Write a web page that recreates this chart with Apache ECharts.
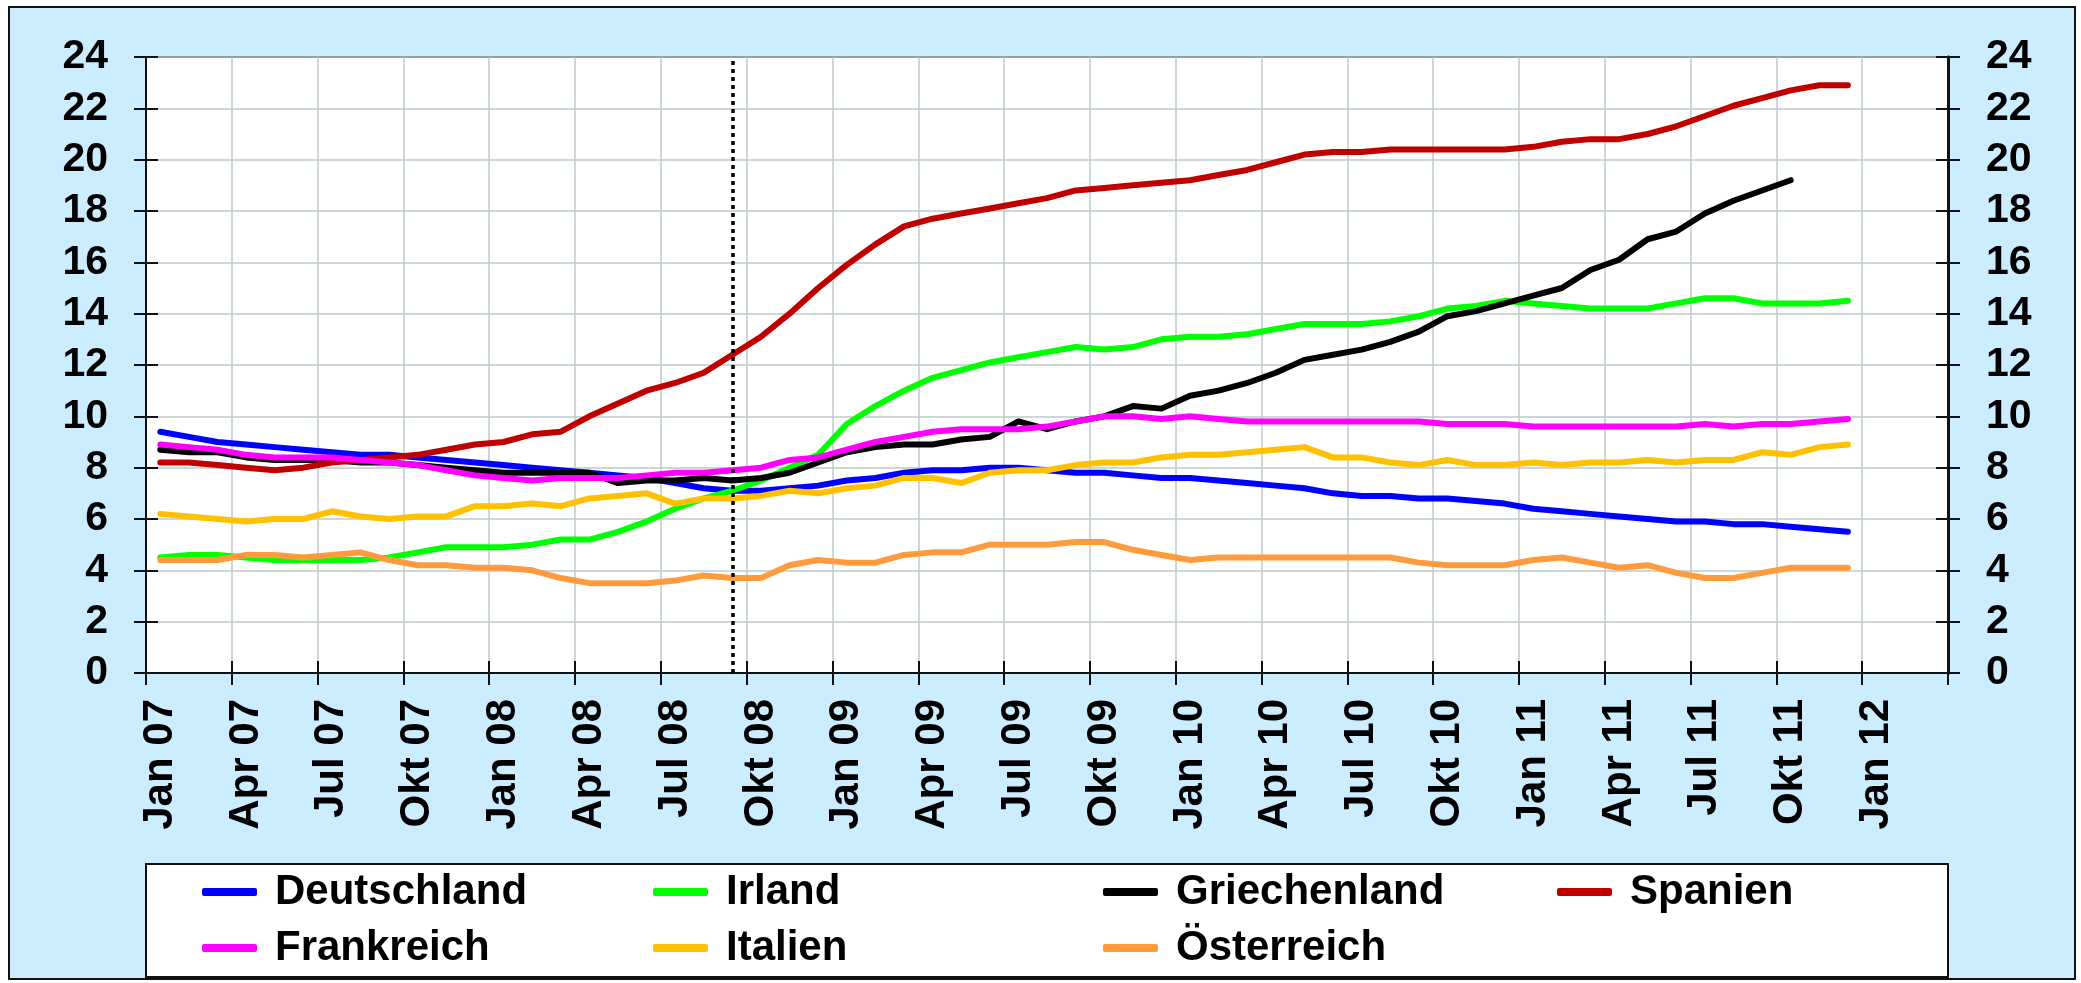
<!DOCTYPE html>
<html>
<head>
<meta charset="utf-8">
<script src="https://cdn.jsdelivr.net/npm/echarts@6/dist/echarts.min.js"></script>
<style>
  html, body { margin: 0; padding: 0; background: #fff; }
  #chart { width: 2081px; height: 983px; }
</style>
</head>
<body>
<div id="chart"></div>
<script>
// Monate Jan 07 bis Mär 12 (Achse reicht bis Ende März 2012)
const months = [
  'Jan 07','Feb 07','Mär 07','Apr 07','Mai 07','Jun 07','Jul 07','Aug 07','Sep 07','Okt 07','Nov 07','Dez 07',
  'Jan 08','Feb 08','Mär 08','Apr 08','Mai 08','Jun 08','Jul 08','Aug 08','Sep 08','Okt 08','Nov 08','Dez 08',
  'Jan 09','Feb 09','Mär 09','Apr 09','Mai 09','Jun 09','Jul 09','Aug 09','Sep 09','Okt 09','Nov 09','Dez 09',
  'Jan 10','Feb 10','Mär 10','Apr 10','Mai 10','Jun 10','Jul 10','Aug 10','Sep 10','Okt 10','Nov 10','Dez 10',
  'Jan 11','Feb 11','Mär 11','Apr 11','Mai 11','Jun 11','Jul 11','Aug 11','Sep 11','Okt 11','Nov 11','Dez 11',
  'Jan 12','Feb 12','Mär 12'
];

const deutschland = [
  9.4, 9.2, 9.0, 8.9, 8.8, 8.7, 8.6, 8.5, 8.5, 8.4, 8.3, 8.2,
  8.1, 8.0, 7.9, 7.8, 7.7, 7.6, 7.4, 7.2, 7.1, 7.1, 7.2, 7.3,
  7.5, 7.6, 7.8, 7.9, 7.9, 8.0, 8.0, 7.9, 7.8, 7.8, 7.7, 7.6,
  7.6, 7.5, 7.4, 7.3, 7.2, 7.0, 6.9, 6.9, 6.8, 6.8, 6.7, 6.6,
  6.4, 6.3, 6.2, 6.1, 6.0, 5.9, 5.9, 5.8, 5.8, 5.7, 5.6, 5.5
];
const irland = [
  4.5, 4.6, 4.6, 4.5, 4.4, 4.4, 4.4, 4.4, 4.5, 4.7, 4.9, 4.9,
  4.9, 5.0, 5.2, 5.2, 5.5, 5.9, 6.4, 6.8, 7.1, 7.5, 8.0, 8.5,
  9.7, 10.4, 11.0, 11.5, 11.8, 12.1, 12.3, 12.5, 12.7, 12.6, 12.7, 13.0,
  13.1, 13.1, 13.2, 13.4, 13.6, 13.6, 13.6, 13.7, 13.9, 14.2, 14.3, 14.5,
  14.4, 14.3, 14.2, 14.2, 14.2, 14.4, 14.6, 14.6, 14.4, 14.4, 14.4, 14.5
];
const griechenland = [
  8.7, 8.6, 8.6, 8.4, 8.3, 8.3, 8.3, 8.2, 8.2, 8.1, 8.0, 7.9,
  7.8, 7.8, 7.8, 7.8, 7.4, 7.5, 7.5, 7.6, 7.5, 7.6, 7.8, 8.2,
  8.6, 8.8, 8.9, 8.9, 9.1, 9.2, 9.8, 9.5, 9.8, 10.0, 10.4, 10.3,
  10.8, 11.0, 11.3, 11.7, 12.2, 12.4, 12.6, 12.9, 13.3, 13.9, 14.1, 14.4,
  14.7, 15.0, 15.7, 16.1, 16.9, 17.2, 17.9, 18.4, 18.8, 19.2
];
const spanien = [
  8.2, 8.2, 8.1, 8.0, 7.9, 8.0, 8.2, 8.3, 8.4, 8.5, 8.7, 8.9,
  9.0, 9.3, 9.4, 10.0, 10.5, 11.0, 11.3, 11.7, 12.4, 13.1, 14.0, 15.0,
  15.9, 16.7, 17.4, 17.7, 17.9, 18.1, 18.3, 18.5, 18.8, 18.9, 19.0, 19.1,
  19.2, 19.4, 19.6, 19.9, 20.2, 20.3, 20.3, 20.4, 20.4, 20.4, 20.4, 20.4,
  20.5, 20.7, 20.8, 20.8, 21.0, 21.3, 21.7, 22.1, 22.4, 22.7, 22.9, 22.9
];
const frankreich = [
  8.9, 8.8, 8.7, 8.5, 8.4, 8.4, 8.4, 8.3, 8.2, 8.1, 7.9, 7.7,
  7.6, 7.5, 7.6, 7.6, 7.6, 7.7, 7.8, 7.8, 7.9, 8.0, 8.3, 8.4,
  8.7, 9.0, 9.2, 9.4, 9.5, 9.5, 9.5, 9.6, 9.8, 10.0, 10.0, 9.9,
  10.0, 9.9, 9.8, 9.8, 9.8, 9.8, 9.8, 9.8, 9.8, 9.7, 9.7, 9.7,
  9.6, 9.6, 9.6, 9.6, 9.6, 9.6, 9.7, 9.6, 9.7, 9.7, 9.8, 9.9
];
const italien = [
  6.2, 6.1, 6.0, 5.9, 6.0, 6.0, 6.3, 6.1, 6.0, 6.1, 6.1, 6.5,
  6.5, 6.6, 6.5, 6.8, 6.9, 7.0, 6.6, 6.8, 6.8, 6.9, 7.1, 7.0,
  7.2, 7.3, 7.6, 7.6, 7.4, 7.8, 7.9, 7.9, 8.1, 8.2, 8.2, 8.4,
  8.5, 8.5, 8.6, 8.7, 8.8, 8.4, 8.4, 8.2, 8.1, 8.3, 8.1, 8.1,
  8.2, 8.1, 8.2, 8.2, 8.3, 8.2, 8.3, 8.3, 8.6, 8.5, 8.8, 8.9
];
const oesterreich = [
  4.4, 4.4, 4.4, 4.6, 4.6, 4.5, 4.6, 4.7, 4.4, 4.2, 4.2, 4.1,
  4.1, 4.0, 3.7, 3.5, 3.5, 3.5, 3.6, 3.8, 3.7, 3.7, 4.2, 4.4,
  4.3, 4.3, 4.6, 4.7, 4.7, 5.0, 5.0, 5.0, 5.1, 5.1, 4.8, 4.6,
  4.4, 4.5, 4.5, 4.5, 4.5, 4.5, 4.5, 4.5, 4.3, 4.2, 4.2, 4.2,
  4.4, 4.5, 4.3, 4.1, 4.2, 3.9, 3.7, 3.7, 3.9, 4.1, 4.1, 4.1
];

const lehman = 'Sep 08';

const FONT = '"Liberation Sans", Arial, sans-serif';
const gridColor = '#BCCACA';

function line(name, data, color) {
  return {
    name: name,
    type: 'line',
    xAxisIndex: 0,
    yAxisIndex: 0,
    data: data,
    symbol: 'none',
    lineStyle: { color: color, width: 6, cap: 'round', join: 'round' },
    itemStyle: { color: color },
    emphasis: { disabled: true }
  };
}

function legendCol(left, names) {
  return {
    orient: 'vertical',
    left: left,
    top: 871,
    padding: 0,
    itemGap: 14,
    itemWidth: 55,
    itemHeight: 8,
    icon: 'roundRect',
    data: names,
    selectedMode: false,
    textStyle: {
      fontFamily: FONT, fontSize: 42, fontWeight: 'bold', color: '#000',
      lineHeight: 42, padding: [0, 0, 0, 13]
    }
  };
}

function yAxis(position, inside, lineWidth) {
  return {
    type: 'value',
    position: position,
    min: 0,
    max: 24,
    interval: 2,
    axisLine: { show: true, lineStyle: { color: '#111', width: lineWidth } },
    axisTick: { show: true, inside: inside, length: 12, lineStyle: { color: '#111', width: 2 } },
    axisLabel: {
      show: !inside,
      fontFamily: FONT, fontSize: 41, fontWeight: 'bold', color: '#000', margin: 38
    },
    splitLine: { show: position === 'left' && !inside, lineStyle: { color: gridColor, width: 1.5 } }
  };
}

function xAxis(inside) {
  return {
    type: 'category',
    data: months,
    boundaryGap: true,
    position: 'bottom',
    axisLine: { show: true, onZero: false, lineStyle: { color: '#111', width: 2 } },
    axisTick: { show: true, inside: inside, interval: 2, length: 12, lineStyle: { color: '#111', width: 2 } },
    axisLabel: {
      show: !inside,
      interval: 2, rotate: 90, margin: 26,
      fontFamily: FONT, fontSize: 42, fontWeight: 'bold', color: '#000'
    },
    splitLine: { show: !inside, interval: 2, lineStyle: { color: gridColor, width: 1.5 } }
  };
}

const chart = echarts.init(document.getElementById('chart'));
const deutschSeries = line('Deutschland', deutschland, '#0000FF');
deutschSeries.markLine = {
  silent: true,
  symbol: 'none',
  label: { show: false },
  lineStyle: { color: '#000', type: [4, 4], width: 3.5 },
  data: [{ xAxis: lehman }]
};

chart.setOption({
  animation: false,
  backgroundColor: '#fff',
  graphic: [
    {
      type: 'rect', z: -10, silent: true,
      shape: { x: 9, y: 7, width: 2066, height: 972 },
      style: { fill: '#CCECFF', stroke: '#111', lineWidth: 2 }
    },
    {
      type: 'rect', z: -5, silent: true,
      shape: { x: 146, y: 864, width: 1802, height: 113 },
      style: { fill: '#fff', stroke: '#111', lineWidth: 2 }
    }
  ],
  grid: {
    left: 146, right: 133, top: 57, bottom: 310,
    show: true, backgroundColor: '#fff', borderColor: '#222', borderWidth: 2
  },
  legend: [
    legendCol(202, ['Deutschland', 'Frankreich']),
    legendCol(653, ['Irland', 'Italien']),
    legendCol(1103, ['Griechenland', 'Österreich']),
    legendCol(1557, ['Spanien'])
  ],
  // zweite Achsen nur für die nach innen zeigenden Striche
  xAxis: [xAxis(false), xAxis(true)],
  yAxis: [yAxis('left', false, 2), yAxis('right', false, 3), yAxis('left', true, 2), yAxis('right', true, 3)],
  series: [
    deutschSeries,
    line('Irland', irland, '#00FF00'),
    line('Griechenland', griechenland, '#000000'),
    line('Spanien', spanien, '#C00000'),
    line('Frankreich', frankreich, '#FF00FF'),
    line('Italien', italien, '#FFC000'),
    line('Österreich', oesterreich, '#FF9B3D')
  ]
});
</script>
</body>
</html>
